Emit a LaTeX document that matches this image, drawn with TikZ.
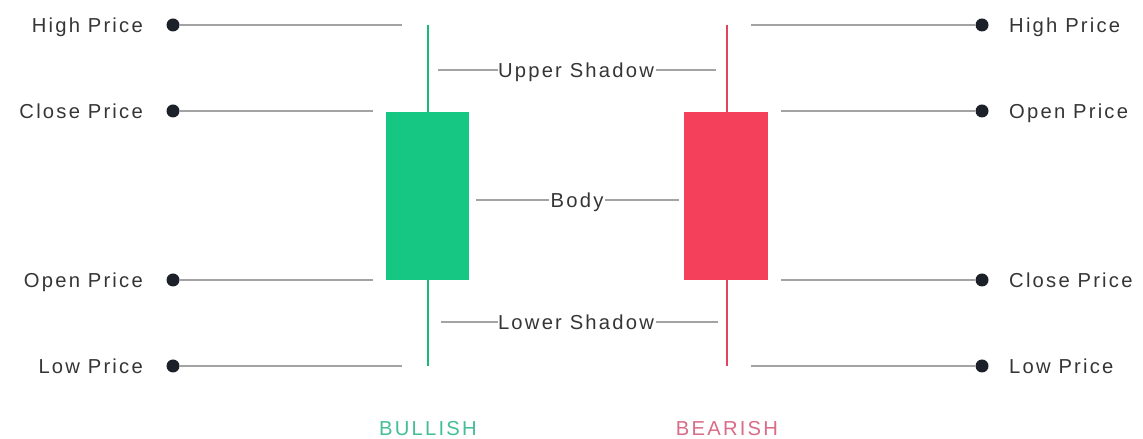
\documentclass[tikz,border=0pt]{standalone}
\usepackage{fontspec}
\newfontfamily\lblfont{Liberation Sans}[LetterSpace=11]
\usepackage{tikz}
\usetikzlibrary{positioning}

\definecolor{bullgreen}{HTML}{16C784}
\definecolor{bullwick}{HTML}{19B97C}
\definecolor{bearred}{HTML}{F5405C}
\definecolor{bearwick}{HTML}{E2435E}
\definecolor{bulltext}{HTML}{45BE98}
\definecolor{beartext}{HTML}{D96C86}
\definecolor{inkgray}{HTML}{353535}
\definecolor{guidegray}{HTML}{A3A3A3}
\definecolor{dotblack}{HTML}{1C2029}

\tikzset{
  dot/.style={circle, fill=dotblack, minimum size=0.26cm, inner sep=0pt},
  lbl/.style={inner sep=0pt, text height=8.2pt, text depth=0pt, text=inkgray,
              font=\lblfont\fontsize{11.5}{13}\selectfont},
  guide/.style={guidegray, line width=0.6pt},
  wick/.style={line width=1.6pt},
  tag/.style={inner sep=0pt, text height=8.2pt, text depth=0pt,
              font=\lblfont\fontsize{11.5}{13}\selectfont}
}

\begin{document}
\begin{tikzpicture}
    \useasboundingbox (0,0) rectangle (22.86,8.78);

    % bullish candle
    \draw[bullwick, wick] (8.56,8.28) coordinate(gtop) -- (8.56,1.46) coordinate(gbot);
    \fill[bullgreen] (7.72,6.54) rectangle (9.38,3.18);
    \node[tag, text=bulltext] (bull) at (8.56,0.22) {BULLISH};

    % bearish candle
    \draw[bearwick, wick] (14.54,8.28) coordinate(rtop) -- (14.54,1.46) coordinate(rbot);
    \fill[bearred] (13.68,6.54) rectangle (15.36,3.18);
    \node[tag, text=beartext] (bear) at (14.54,0.22) {BEARISH};

    % left side prices
    \node[dot] (lhigh)  at (3.46,8.28) {};
    \node[dot] (lclose) at (3.46,6.56) {};
    \node[dot] (lopen)  at (3.46,3.18) {};
    \node[dot] (llow)   at (3.46,1.46) {};
    \node[lbl, left=0.46cm of lhigh]  {High Price};
    \node[lbl, left=0.46cm of lclose] {Close Price};
    \node[lbl, left=0.46cm of lopen]  {Open Price};
    \node[lbl, left=0.46cm of llow]   {Low Price};
    \coordinate (lhighend)  at (8.04,8.28);
    \coordinate (lcloseend) at (7.46,6.56);
    \coordinate (lopenend)  at (7.46,3.18);
    \coordinate (llowend)   at (8.04,1.46);
    \draw[guide] (lhigh) -- (lhighend);
    \draw[guide] (lclose) -- (lcloseend);
    \draw[guide] (lopen) -- (lopenend);
    \draw[guide] (llow) -- (llowend);

    % right side prices
    \node[dot] (rhigh)  at (19.64,8.28) {};
    \node[dot] (ropen)  at (19.64,6.56) {};
    \node[dot] (rclose) at (19.64,3.18) {};
    \node[dot] (rlow)   at (19.64,1.46) {};
    \node[lbl, right=0.4cm of rhigh]  {High Price};
    \node[lbl, right=0.4cm of ropen]  {Open Price};
    \node[lbl, right=0.4cm of rclose] {Close Price};
    \node[lbl, right=0.4cm of rlow]   {Low Price};
    \coordinate (rhighend)  at (15.02,8.28);
    \coordinate (ropenend)  at (15.62,6.56);
    \coordinate (rcloseend) at (15.62,3.18);
    \coordinate (rlowend)   at (15.02,1.46);
    \draw[guide] (rhighend) -- (rhigh);
    \draw[guide] (ropenend) -- (ropen);
    \draw[guide] (rcloseend) -- (rclose);
    \draw[guide] (rlowend) -- (rlow);

    % middle parts
    \node[lbl] (upper) at (11.52,7.38) {Upper Shadow};
    \node[lbl] (body)  at (11.54,4.78) {Body};
    \node[lbl] (lower) at (11.52,2.34) {Lower Shadow};
    \coordinate (upl) at (8.76,7.38);  \coordinate (upr) at (14.32,7.38);
    \coordinate (bol) at (9.52,4.78);  \coordinate (bor) at (13.58,4.78);
    \coordinate (lol) at (8.82,2.34);  \coordinate (lor) at (14.36,2.34);
    \draw[guide] (upl) -- (upper.west);
    \draw[guide] ([xshift=1pt]upper.east) -- (upr);
    \draw[guide] (bol) -- ([xshift=-1pt]body.west);
    \draw[guide] ([xshift=1pt]body.east) -- (bor);
    \draw[guide] (lol) -- (lower.west);
    \draw[guide] ([xshift=1pt]lower.east) -- (lor);
\end{tikzpicture}
\end{document}
